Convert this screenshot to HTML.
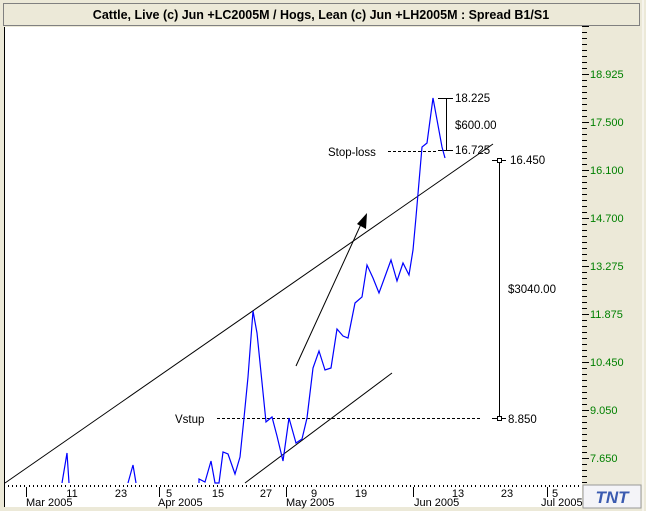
<!DOCTYPE html>
<html><head><style>
body{margin:0;width:646px;height:511px;overflow:hidden;background:#ece9d8;}
svg{display:block;font-family:"Liberation Sans",sans-serif;}
</style></head><body>
<svg width="646" height="511" xmlns="http://www.w3.org/2000/svg">
<rect width="646" height="511" fill="#ece9d8"/>
<line x1="643" y1="0" x2="643" y2="511" stroke="#fff"/>
<rect x="3.5" y="3.5" width="636" height="22" fill="#ece9d8" stroke="#808080"/>
<text x="321" y="19" text-anchor="middle" font-size="12.5" font-weight="bold" fill="#000">Cattle, Live (c) Jun +LC2005M / Hogs, Lean (c) Jun +LH2005M : Spread B1/S1</text>
<rect x="4" y="27" width="578" height="480" fill="#fff"/>
<line x1="4.5" y1="27" x2="4.5" y2="507" stroke="#000"/>
<g id="rt"></g>
<g id="bt"></g>
<g fill="#008000" font-size="11">
<text x="590" y="78">18.925</text><text x="590" y="126">17.500</text><text x="590" y="174">16.100</text>
<text x="590" y="222">14.700</text><text x="590" y="270">13.275</text><text x="590" y="318">11.875</text>
<text x="590" y="366">10.450</text><text x="590" y="414">9.050</text><text x="590" y="462">7.650</text>
</g>
<g font-size="11" fill="#000" text-anchor="middle">
<text x="72" y="497">11</text><text x="121" y="497">23</text><text x="169" y="497">5</text><text x="218" y="497">15</text>
<text x="266" y="497">27</text><text x="314" y="497">9</text><text x="361" y="497">19</text><text x="458" y="497">13</text>
<text x="507" y="497">23</text><text x="555" y="497">5</text>
</g>
<g font-size="11" fill="#000">
<text x="26" y="506">Mar 2005</text><text x="158" y="506">Apr 2005</text><text x="286" y="506">May 2005</text>
<text x="414" y="506">Jun 2005</text><text x="541" y="506">Jul 2005</text>
</g>
<g stroke="#000">
<line x1="26.5" y1="487" x2="26.5" y2="497"/><line x1="159.5" y1="487" x2="159.5" y2="497"/>
<line x1="286.5" y1="487" x2="286.5" y2="497"/><line x1="413.5" y1="487" x2="413.5" y2="497"/>
<line x1="547.5" y1="487" x2="547.5" y2="497"/>
</g>
<rect x="583" y="485" width="58" height="23" fill="#f4f4f8" stroke="#999"/>
<text x="612" y="503" text-anchor="middle" font-size="17" font-weight="bold" font-style="italic" fill="#3a5ab0">TNT</text>
<g stroke="#000" stroke-width="1" fill="none">
<line x1="5" y1="483" x2="493" y2="144"/>
<line x1="245" y1="483" x2="392" y2="373"/>
<line x1="296" y1="366" x2="362" y2="222"/>
<line x1="217" y1="418.5" x2="482" y2="418.5" stroke-dasharray="3,2"/>
<line x1="388" y1="151.5" x2="436" y2="151.5" stroke-dasharray="3,2"/>
<line x1="446.5" y1="98" x2="446.5" y2="150"/>
<line x1="438" y1="98.5" x2="453" y2="98.5"/><line x1="438" y1="150.5" x2="453" y2="150.5"/>
<line x1="499.5" y1="160" x2="499.5" y2="418"/>
<line x1="492" y1="160.5" x2="506" y2="160.5"/><line x1="492" y1="418.5" x2="506" y2="418.5"/>
</g>
<rect x="497.5" y="158.5" width="4" height="4" fill="#fff" stroke="#000"/>
<rect x="497.5" y="416.5" width="4" height="4" fill="#fff" stroke="#000"/>
<polygon points="367,213 357,224 366,229" fill="#000"/>
<polyline fill="none" stroke="#0000ff" stroke-width="1.2" points="62,483 67,453 69,483"/>
<polyline fill="none" stroke="#0000ff" stroke-width="1.2" points="128,483 133,465 136,483"/>
<polyline fill="none" stroke="#0000ff" stroke-width="1.2" points="199,483 199,479 205,482 211,461 215,483 219,483 223,452 228,454 235,474 240,457 244,418 248,377 253,311 257,333 266,422 272,417 277,436 283,461 289,418 296,443 302,439 307,418 313,368 319,351 325,370 331,368 337,329 343,336 348,338 355,303 362,297 367,265 373,278 379,293 391,260 397,281 403,263 409,275 413,250 416,217 422,147 427,143 433,98 442,147 445,158"/>
<g font-size="11.5" fill="#000">
<text x="175" y="423">Vstup</text><text x="328" y="156">Stop-loss</text>
<text x="455" y="102">18.225</text><text x="455" y="129">$600.00</text><text x="455" y="154">16.725</text>
<text x="510" y="164">16.450</text><text x="508" y="293">$3040.00</text><text x="508" y="423">8.850</text>
</g>
<g id="ticks" stroke="#000"></g>
<script>
var g=document.getElementById('ticks'),ns='http://www.w3.org/2000/svg';
for(var y=26;y<=483;y+=6){var l=document.createElementNS(ns,'line');var maj=((y-74)%48==0);
l.setAttribute('x1',582);l.setAttribute('x2',maj?589:587);l.setAttribute('y1',y+0.5);l.setAttribute('y2',y+0.5);g.appendChild(l);}
for(var x=8;x<580;x+=4.1){var r=document.createElementNS(ns,'rect');r.setAttribute('x',Math.round(x));r.setAttribute('y',485);r.setAttribute('width',1);r.setAttribute('height',2);r.setAttribute('fill','#000');r.setAttribute('stroke','none');g.appendChild(r);}
</script>
</svg>
</body></html>
